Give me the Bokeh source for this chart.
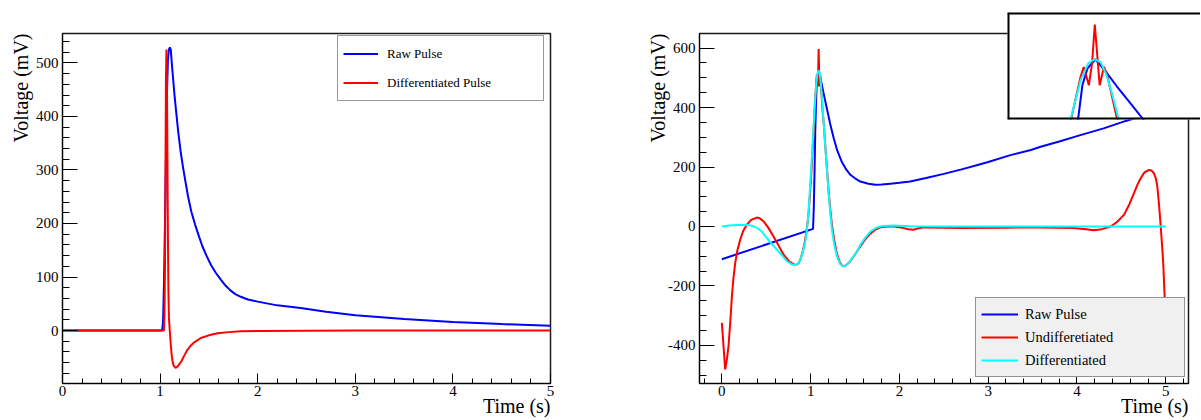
from bokeh.plotting import figure
from bokeh.models import Range1d, FixedTicker, Legend, LegendItem, Span, Title
from bokeh.layouts import row
from bokeh.embed import file_html
from bokeh.resources import INLINE

# ---------------- data: left panel ----------------
left_raw_t = [0.0, 1.00, 1.02, 1.03, 1.04, 1.05, 1.06, 1.07, 1.08, 1.09, 1.10, 1.11,
              1.12, 1.15, 1.184, 1.21, 1.235, 1.26, 1.287, 1.32, 1.36, 1.40, 1.434,
              1.48, 1.52, 1.57, 1.622, 1.67, 1.72, 1.77, 1.827, 1.9, 2.0, 2.2, 2.44,
              2.7, 3.0, 3.5, 4.0, 4.5, 5.0]
left_raw_v = [0, 0, 0, 15, 90, 200, 320, 440, 505, 525, 529, 524,
              499, 435, 374, 335, 305, 278, 250, 222, 197, 175, 157,
              138, 123, 108, 95, 84, 75, 68, 63, 58, 54, 47, 42,
              35, 28.6, 21.5, 16, 12, 8.7]

left_diff_t = [0.0, 1.00, 1.04, 1.045, 1.05, 1.055, 1.06, 1.065, 1.07, 1.075, 1.08,
               1.085, 1.09, 1.099, 1.11, 1.12, 1.13, 1.14, 1.158, 1.18, 1.22, 1.25,
               1.28, 1.31, 1.35, 1.417, 1.5, 1.588, 1.7, 1.83, 2.0, 2.5, 3.0, 5.0]
left_diff_v = [0, 0, 0, 30, 120, 300, 470, 525, 470, 330, 180,
               80, 25, 0, -28, -48, -60, -66, -70, -67, -57, -46,
               -36, -29, -22, -14, -9, -5, -3, -1.5, -0.8, -0.3, 0, 0]

# ---------------- data: right panel ----------------
right_raw_t = [0.0, 1.027, 1.035, 1.045, 1.052, 1.059, 1.067, 1.0765, 1.091, 1.11,
               1.13, 1.155, 1.18, 1.22, 1.26, 1.30, 1.35, 1.40, 1.45, 1.50, 1.56,
               1.65, 1.73, 1.80, 1.90, 2.0, 2.12, 2.3, 2.5, 2.7, 2.88, 3.0, 3.25,
               3.48, 3.59, 3.8, 4.0, 4.3, 4.55, 4.8, 5.0]
right_raw_v = [-110, -8, 60, 200, 320, 400, 471, 506, 525, 500,
               470, 435, 400, 345, 297, 255, 218, 192, 173, 162, 151,
               144, 140, 141, 144, 147, 151, 163, 177, 192, 207, 217, 240,
               257, 268, 286, 304, 330, 355, 378, 396]

right_undiff_t = [0.0, 0.018, 0.037, 0.055, 0.075, 0.095, 0.113, 0.13, 0.15, 0.175,
                  0.206, 0.24, 0.281, 0.33, 0.394, 0.43, 0.47, 0.52, 0.582, 0.64,
                  0.695, 0.76, 0.826, 0.86, 0.883, 0.91, 0.939, 0.96, 0.977, 0.995,
                  1.014, 1.03, 1.046, 1.0635, 1.0696, 1.079, 1.085, 1.09, 1.099,
                  1.107, 1.113, 1.1315, 1.15, 1.165, 1.185, 1.202, 1.22, 1.24, 1.265,
                  1.296, 1.33, 1.364, 1.395, 1.428, 1.475, 1.522, 1.559, 1.61, 1.672,
                  1.73, 1.785, 1.86, 1.936, 2.0, 2.048, 2.1, 2.161, 2.2, 2.274, 2.5,
                  2.688, 3.2, 3.59, 3.965, 4.1, 4.19, 4.28, 4.379, 4.45, 4.529, 4.59,
                  4.642, 4.68, 4.717, 4.76, 4.811, 4.84, 4.867, 4.89, 4.905, 4.925,
                  4.943, 4.96, 4.973, 5.0]
right_undiff_v = [-324, -400, -481, -450, -402, -320, -235, -175, -123, -80,
                  -45, -15, 6, 22, 30, 27, 17, -3, -34, -65,
                  -95, -118, -130, -125, -112, -85, -45, 0, 45, 120,
                  212, 300, 400, 488, 509, 471, 517, 597, 471,
                  509, 492, 400, 335, 270, 190, 120, 60, 5, -45,
                  -92, -122, -134, -131, -123, -105, -84, -67, -45, -24,
                  -10, -3, 0, 0, -3, -5.5, -9, -11, -7, -3, -4,
                  -5, -4, -3, -5, -9, -13, -9, 0, 15, 39, 75,
                  112, 140, 162, 182, 190, 188, 179, 160, 134, 70,
                  0, -70, -134, -330]

right_diff_t = [0.0, 0.08, 0.169, 0.281, 0.34, 0.394, 0.45, 0.507, 0.56, 0.62, 0.68,
                0.733, 0.78, 0.826, 0.86, 0.883, 0.91, 0.939, 0.96, 0.977, 0.995,
                1.014, 1.03, 1.045, 1.0635, 1.078, 1.09, 1.1006, 1.1117, 1.1228,
                1.1344, 1.15, 1.165, 1.185, 1.202, 1.22, 1.24, 1.265, 1.296, 1.33,
                1.364, 1.395, 1.428, 1.475, 1.522, 1.559, 1.61, 1.672, 1.74, 1.81,
                1.936, 2.123, 2.5, 5.0]
right_diff_v = [0, 3, 5, 6, 2, -4, -17, -39, -58, -78, -98,
                -117, -126, -130, -124, -112, -88, -52, -5, 50, 140,
                235, 320, 400, 481, 517, 525, 519, 492, 450,
                400, 335, 268, 185, 112, 50, -11, -60, -100, -125,
                -134, -131, -123, -104, -84, -62, -40, -17, -4, 2,
                3, 1, 0, 0]

# ---------------- ticks / labels ----------------
left_x_ticks = [0, 1, 2, 3, 4, 5]
left_y_ticks = [0, 100, 200, 300, 400, 500]
right_x_ticks = [0, 1, 2, 3, 4, 5]
right_y_ticks = [-400, -200, 0, 200, 400, 600]
x_title = "Time (s)"
y_title = "Voltage (mV)"

FONT = "Liberation Serif"
BLUE, RED, CYAN = "#0000ff", "#ff0000", "#00ffff"
H = 419
TOP, BOTTOM = 33, 36


def main_fig(width, bl, br, xr, yr, xt, xminor, yt, yminor, y_std):
    p = figure(width=width, height=H, x_range=Range1d(*xr), y_range=Range1d(*yr),
               output_backend="svg", toolbar_location=None, title=None,
               min_border_left=bl, min_border_right=br,
               min_border_top=TOP, min_border_bottom=BOTTOM)
    p.xgrid.visible = False
    p.ygrid.visible = False
    p.background_fill_color = "white"
    p.border_fill_color = "white"
    p.outline_line_color = "#1a1a1a"
    p.outline_line_width = 1.5
    xa, ya = p.xaxis[0], p.yaxis[0]
    xa.ticker = FixedTicker(ticks=xt, minor_ticks=xminor)
    ya.ticker = FixedTicker(ticks=yt, minor_ticks=yminor)
    xa.major_label_overrides = {t: str(t) for t in xt}
    ya.major_label_overrides = {t: str(t) for t in yt}
    for ax in (xa, ya):
        ax.axis_line_color = "black"
        ax.axis_line_width = 1
        ax.major_tick_line_color = "black"
        ax.minor_tick_line_color = "black"
        ax.major_tick_out = 0
        ax.minor_tick_out = 0
        ax.major_label_text_font = FONT
        ax.major_label_text_font_size = "15px"
        ax.major_label_text_color = "black"
    xa.major_tick_in = 10
    xa.minor_tick_in = 5
    xa.major_label_standoff = 2
    ya.major_tick_in = 15
    ya.minor_tick_in = 7
    ya.major_label_standoff = 4
    # axis titles, right / top aligned as in the original
    p.add_layout(Title(text=x_title, align="right", vertical_align="middle",
                       text_font=FONT, text_font_size="20px",
                       text_font_style="normal", text_color="black",
                       standoff=-10, offset=0), "below")
    p.add_layout(Title(text=y_title, align="right", vertical_align="middle",
                       text_font=FONT, text_font_size="20px",
                       text_font_style="normal", text_color="black",
                       standoff=y_std, offset=0), "left")
    return p


# ---------------- left figure ----------------
p1 = main_fig(600, 62, 50, (0, 5), (-99, 555), left_x_ticks,
              [i * 0.2 for i in range(26)], left_y_ticks,
              list(range(-100, 560, 20)), 0)
r1 = p1.line(left_raw_t, left_raw_v, line_color=BLUE, line_width=2)
r2 = p1.line(left_diff_t, left_diff_v, line_color=RED, line_width=2)
leg1 = Legend(items=[LegendItem(label="Raw Pulse", renderers=[r1]),
                     LegendItem(label="Differentiated Pulse", renderers=[r2])],
              location=(275, 282), margin=0, padding=5, spacing=4,
              glyph_width=35, glyph_height=25, label_standoff=9, label_width=151,
              label_text_font=FONT, label_text_font_size="13px",
              label_text_color="black",
              border_line_color="#333333", border_line_width=1.5,
              background_fill_color="white", background_fill_alpha=1.0)
p1.add_layout(leg1)

# ---------------- right figure ----------------
p2 = main_fig(600, 99, 12, (-0.252, 5.256), (-528, 649), right_x_ticks,
              [-0.2 + i * 0.2 for i in range(28)], right_y_ticks,
              list(range(-500, 650, 50)), -8)
q1 = p2.line(right_raw_t, right_raw_v, line_color=BLUE, line_width=2)
q2 = p2.line(right_undiff_t, right_undiff_v, line_color=RED, line_width=2)
q3 = p2.line(right_diff_t, right_diff_v, line_color=CYAN, line_width=2)
leg2 = Legend(items=[LegendItem(label="Raw Pulse", renderers=[q1]),
                     LegendItem(label="Undifferetiated", renderers=[q2]),
                     LegendItem(label="Differentiated", renderers=[q3])],
              location=(276, 6), margin=0, padding=5, spacing=1,
              glyph_width=37, glyph_height=22, label_standoff=7, label_width=154,
              label_text_font=FONT, label_text_font_size="14.5px",
              label_text_color="black",
              border_line_color="#333333", border_line_width=1.5,
              background_fill_color="#f0f0f0", background_fill_alpha=1.0)
p2.add_layout(leg2)

# ---------------- inset (zoom on the peak) ----------------
inset_x = (0.9283, 1.2858)
inset_y = (400, 622)
IN_TOP, IN_BOTTOM, IN_FRAME = 33, 36, 107
inset = figure(width=193, height=IN_TOP + IN_FRAME + IN_BOTTOM,
               x_range=Range1d(*inset_x), y_range=Range1d(*inset_y),
               output_backend="svg", title=None, toolbar_location=None,
               x_axis_location=None, y_axis_location=None,
               min_border_left=0, min_border_right=0,
               min_border_top=IN_TOP, min_border_bottom=IN_BOTTOM)
inset.xgrid.visible = False
inset.ygrid.visible = False
inset.outline_line_color = None
inset.background_fill_color = "white"
inset.border_fill_alpha = 0
inset.line(right_raw_t, right_raw_v, line_color=BLUE, line_width=2)
inset.line(right_undiff_t, right_undiff_v, line_color=RED, line_width=2)
inset.line(right_diff_t, right_diff_v, line_color=CYAN, line_width=2)
inset.add_layout(Span(location=inset_x[0], dimension="height", line_color="black", line_width=4))
inset.add_layout(Span(location=inset_y[1], dimension="width", line_color="black", line_width=4))
inset.add_layout(Span(location=inset_y[0], dimension="width", line_color="black", line_width=4))
inset.margin = (12 - IN_TOP, 0, 0, -193)

layout = row(p1, p2, inset)
open("out.html", "w").write(file_html(layout, INLINE))
